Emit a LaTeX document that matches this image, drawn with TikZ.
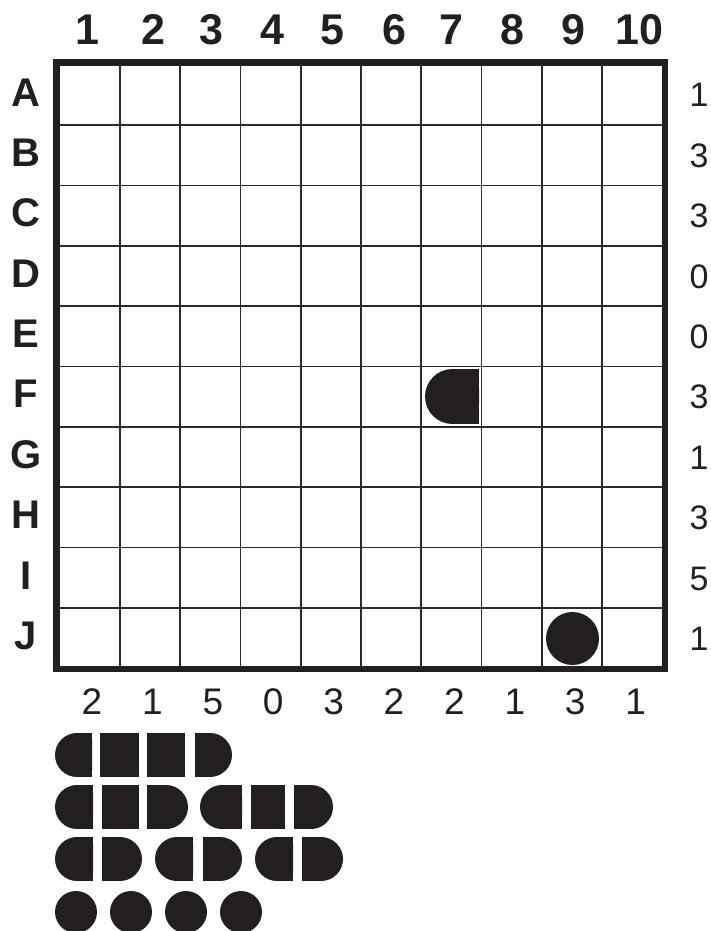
\documentclass[tikz,border=0pt]{standalone}
\usepackage{fontspec}
\setmainfont{Liberation Sans}
\definecolor{ink}{HTML}{231F20}
\definecolor{gridc}{HTML}{2A2A2A}
\newcommand\segL[4]{%
  \begin{scope}\clip (#1,#3) rectangle (#2,#4);
  \fill[ink] ({#1+(#4-#3)/2},{(#3+#4)/2}) circle[radius={(#4-#3)/2}];
  \fill[ink] ({#1+(#4-#3)/2},#3) rectangle (#2,#4);
  \end{scope}}
\newcommand\segR[4]{%
  \begin{scope}\clip (#1,#3) rectangle (#2,#4);
  \fill[ink] ({#2-(#4-#3)/2},{(#3+#4)/2}) circle[radius={(#4-#3)/2}];
  \fill[ink] (#1,#3) rectangle ({#2-(#4-#3)/2},#4);
  \end{scope}}
\newcommand\segS[4]{\fill[ink] (#1,#3) rectangle (#2,#4);}
\tikzset{
  collab/.style={font=\fontsize{43}{43}\selectfont\bfseries, text=ink, inner sep=0pt, anchor=base},
  rowlab/.style={font=\fontsize{40}{40}\selectfont\bfseries, text=ink, inner sep=0pt, anchor=base},
  botcnt/.style={font=\fontsize{37}{37}\selectfont, text=ink, inner sep=0pt, anchor=base},
  rcnt/.style={font=\fontsize{34}{34}\selectfont, text=ink, inner sep=0pt, anchor=base},
  gridline/.style={line width=1.6pt, draw=gridc},
  border/.style={line width=6.5pt, draw=ink}
}
\begin{document}
\begin{tikzpicture}[x=1pt,y=-1pt]
\useasboundingbox (0,0) rectangle (710,931);
\fill[white] (0,0) rectangle (710,931);
% grid lines
\foreach \i in {0,...,8}{
  \draw[gridline] ({120+60.25*\i},62.5) -- ({120+60.25*\i},669);
  \draw[gridline] (56.5,{125+60.375*\i}) -- (665,{125+60.375*\i});
}
\draw[border] (56.5,62.5) rectangle (665,669);
% column labels on top (baseline)
\foreach \c/\x in {1/87,2/153,3/211,4/272.5,5/332.5,6/394,7/451,8/512,9/573,10/639}{
  \node[collab] (top\c) at (\x,44.4) {\c};
}
% counts below the columns (baseline)
\foreach \c/\b [count=\k from 0] in {1/2,2/1,3/5,4/0,5/3,6/2,7/2,8/1,9/3,10/1}{
  \node[botcnt] (bot\c) at ({92+60.4*\k},714.2) {\b};
}
% row labels and counts (baseline)
\foreach \r/\n [count=\k from 0] in {A/1,B/3,C/3,D/0,E/0,F/3,G/1,H/3,I/5,J/1}{
  \node[rowlab] (row\r) at (26,{94.8+60.375*\k-3+14.3}) {\r};
  \node[rcnt] (cnt\r) at (699,{94.8+60.375*\k+12.2}) {\n};
}
% pieces on the board
\segL{425}{479}{369}{424}
\fill[ink] (572.5,638.5) circle[radius=26.5];
% fleet
\segL{55}{92}{733}{777}
\segS{100}{139}{733}{777}
\segS{147}{185}{733}{777}
\segR{195}{232}{733}{777}
\segL{55}{93}{785}{829}
\segS{102}{139}{785}{829}
\segR{147}{188}{785}{829}
\segL{200}{242}{785}{829}
\segS{251}{285}{785}{829}
\segR{294}{333}{785}{829}
\segL{55}{93}{837}{881}
\segR{102}{142}{837}{881}
\segL{155}{193}{837}{881}
\segR{203}{242}{837}{881}
\segL{255}{293}{837}{881}
\segR{302}{343}{837}{881}
\foreach \x in {76,131,186,241}{\fill[ink] (\x,912) circle[radius=21];}
\end{tikzpicture}
\end{document}
